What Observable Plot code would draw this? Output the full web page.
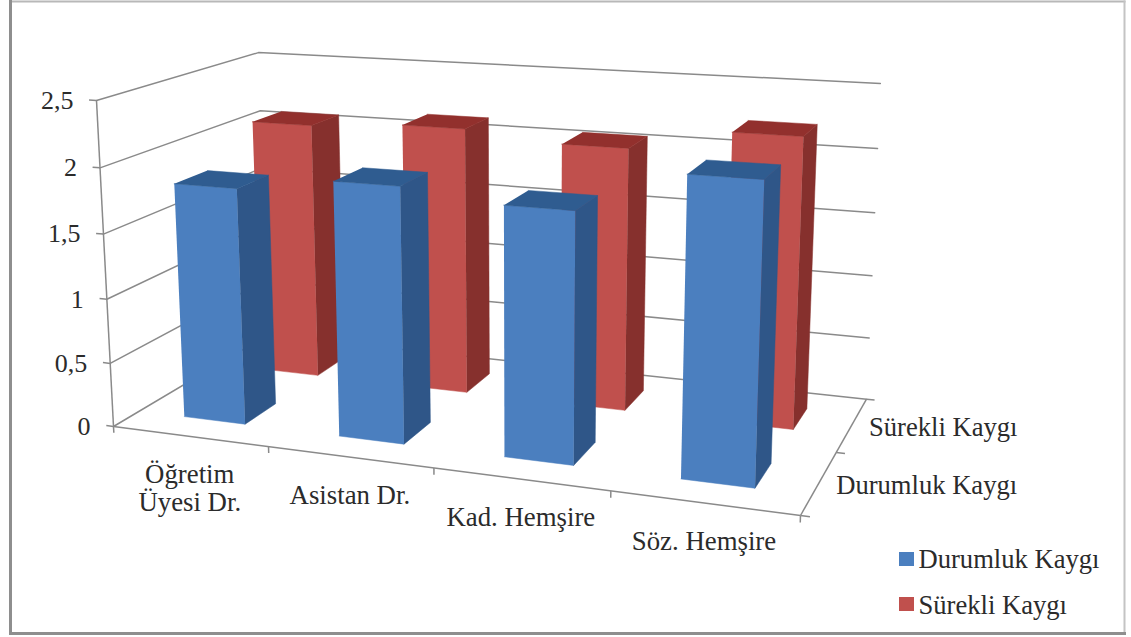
<!DOCTYPE html>
<html lang="tr">
<head>
<meta charset="utf-8">
<title>Durumluk ve Sürekli Kaygı</title>
<script src="https://cdn.jsdelivr.net/npm/d3@7"></script>
<script src="https://cdn.jsdelivr.net/npm/@observablehq/plot@0.6"></script>
<style>
  html, body { margin: 0; padding: 0; background: #fff; }
  svg { display: block; }
</style>
</head>
<body>
<div id="chart"></div>
<script>
// Mean anxiety scores per staff group
const categories = ["Öğretim\nÜyesi Dr.", "Asistan Dr.", "Kad. Hemşire", "Söz. Hemşire"];
const seriesNames = ["Durumluk Kaygı", "Sürekli Kaygı"];
const durumluk = [1.83, 1.94, 1.86, 2.17];
const surekli = [2.08, 2.13, 2.06, 2.23];
const valueTicks = [0, 0.5, 1, 1.5, 2, 2.5];
const valueLabels = ["0", "0,5", "1", "1,5", "2", "2,5"];

const maxValue = 2.5;
const barStart = 0.3, barEnd = 0.7; // share of a cell left free by the 150% gap

// Perspective camera: images of the box origin and of its three far corners,
// plus the homogeneous weight change along each box axis.
const origin = [113, 426], endU = [800, 515], endV = [267, 334.6], endW = [96, 100];
const du = -0.126, dv = 0.1608, dw = -0.04;

function project(u, v, w) {
  const d = 1 + du * u + dv * v + dw * w;
  const axis = (i) =>
    (origin[i] +
      (endU[i] * (1 + du) - origin[i]) * u +
      (endV[i] * (1 + dv) - origin[i]) * v +
      (endW[i] * (1 + dw) - origin[i]) * w) / d;
  return [axis(0), axis(1)];
}

// One polygon table per shaded face of the bars in a series
function barFaces(values, seriesIndex) {
  const n = categories.length, m = seriesNames.length;
  const front = [], side = [], top = [];
  values.forEach((value, i) => {
    const u0 = (i + barStart) / n, u1 = (i + barEnd) / n;
    const v0 = (seriesIndex + barStart) / m, v1 = (seriesIndex + barEnd) / m;
    const h = value / maxValue;
    const push = (rows, corners) => corners.forEach((c) => {
      const [x, y] = project(...c);
      rows.push({ bar: i, x, y });
    });
    push(front, [[u0, v0, 0], [u1, v0, 0], [u1, v0, h], [u0, v0, h]]);
    push(side, [[u1, v0, 0], [u1, v1, 0], [u1, v1, h], [u1, v0, h]]);
    push(top, [[u0, v0, h], [u1, v0, h], [u1, v1, h], [u0, v1, h]]);
  });
  return { front, side, top };
}

const faceMarks = (faces, colours) => [
  Plot.line(faces.front, { x: "x", y: "y", z: "bar", fill: colours.front, stroke: colours.front, strokeWidth: 0.5 }),
  Plot.line(faces.side, { x: "x", y: "y", z: "bar", fill: colours.side, stroke: colours.side, strokeWidth: 0.5 }),
  Plot.line(faces.top, { x: "x", y: "y", z: "bar", fill: colours.top, stroke: colours.top, strokeWidth: 0.5 })
];

// Wall gridlines run along the left wall, then along the back wall
const gridRows = valueTicks.flatMap((t) =>
  [[0, 0], [0, 1], [1, 1]].map(([u, v]) => {
    const [x, y] = project(u, v, t / maxValue);
    return { t, x, y };
  })
);
const axisLine = (a, b) => {
  const [x1, y1] = project(...a), [x2, y2] = project(...b);
  return { x1, y1, x2, y2 };
};
const axisSegments = [
  axisLine([0, 0, 0], [0, 0, 1]),
  axisLine([0, 0, 0], [1, 0, 0]),
  axisLine([1, 0, 0], [1, 1, 0]),
  ...valueTicks.map((t) => axisLine([-0.012, 0, t / maxValue], [0, 0, t / maxValue])),
  ...d3.range(categories.length + 1).map((k) =>
    axisLine([k / categories.length, 0, -0.02], [k / categories.length, 0, 0])),
  ...d3.range(seriesNames.length + 1).map((k) =>
    axisLine([1, k / seriesNames.length, 0], [1.012, k / seriesNames.length, 0]))
];

const valueLabelRows = valueTicks.map((t, i) => {
  const [x, y] = project(0, 0, t / maxValue);
  return { x, y, label: valueLabels[i] };
});
const categoryLabelRows = categories.map((label, i) => {
  const [x, y] = project((i + 0.5) / categories.length, 0, 0);
  return { x, y, label };
});
const seriesLabelRows = seriesNames.map((label, j) => {
  const [x, y] = project(1, (j + 0.5) / seriesNames.length, 0);
  return { x, y, label };
});

const blue = { front: "#4b7fbf", side: "#2f5688", top: "#2f5c90" };
const red = { front: "#c0504d", side: "#86302d", top: "#92302d" };
const textFill = "#2b2b2b";
const gridStroke = "#8a8a8a";
const legendRows = seriesNames.map((label, j) => ({ label, colour: [blue.front, red.front][j], row: j }));

const frameInsets = { insetTop: 1, insetRight: 7, insetBottom: 4, insetLeft: 10 };

const width = 1131, height = 637;
const chart = Plot.plot({
  width, height,
  margin: 0,
  style: { background: "#fff", fontFamily: "'Liberation Serif', serif" },
  x: { domain: [0, width], range: [0, width], axis: null },
  y: { domain: [0, height], range: [0, height], axis: null },
  marks: [
    Plot.frame({ anchor: "top", stroke: "#b8b8b8", strokeWidth: 2, ...frameInsets }),
    Plot.frame({ anchor: "right", stroke: "#c4c4c4", strokeWidth: 2, ...frameInsets }),
    Plot.frame({ anchor: "left", stroke: "#8e8e8e", strokeWidth: 3, ...frameInsets }),
    Plot.frame({ anchor: "bottom", stroke: "#8e8e8e", strokeWidth: 3, ...frameInsets }),
    Plot.line(gridRows, { x: "x", y: "y", z: "t", stroke: gridStroke, strokeWidth: 1.5 }),
    Plot.link(axisSegments, { x1: "x1", y1: "y1", x2: "x2", y2: "y2", stroke: gridStroke, strokeWidth: 1.5 }),
    ...faceMarks(barFaces(surekli, 1), red),
    ...faceMarks(barFaces(durumluk, 0), blue),
    Plot.text(valueLabelRows, { x: "x", y: "y", text: "label", dx: -23, textAnchor: "end", fontSize: 26, fill: textFill }),
    Plot.text(categoryLabelRows, { x: "x", y: "y", text: "label", dy: 27, lineAnchor: "top", fontSize: 26.8, lineHeight: 1.05, fill: textFill }),
    Plot.text(seriesLabelRows, { x: "x", y: "y", text: "label", dx: 17, dy: 3, textAnchor: "start", fontSize: 26.6, fill: textFill }),
    Plot.rect(legendRows, {
      x1: () => 899, x2: () => 914,
      y1: (d) => 552 + d.row * 45, y2: (d) => 566 + d.row * 45,
      fill: "colour"
    }),
    Plot.text(legendRows, {
      x: () => 918, y: (d) => 559 + d.row * 46, text: "label",
      textAnchor: "start", fontSize: 26.6, fill: textFill
    })
  ],
  color: { type: "identity" }
});
document.getElementById("chart").append(chart);
</script>
</body>
</html>
